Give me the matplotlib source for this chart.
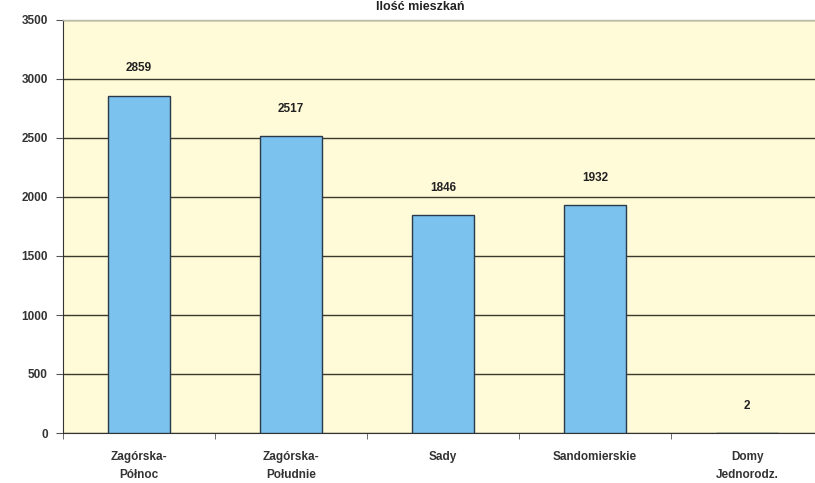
import matplotlib
matplotlib.use("Agg")
import matplotlib.pyplot as plt
import numpy as np

categories = ["Zagórska-\nPółnoc", "Zagórska-\nPołudnie", "Sady", "Sandomierskie", "Domy\nJednorodz."]
values = [2859, 2517, 1846, 1932, 2]
yticks = [0, 500, 1000, 1500, 2000, 2500, 3000, 3500]
title = "Ilość mieszkań"

plt.rcParams['font.family'] = ['Liberation Sans', 'DejaVu Sans']

W, H = 815, 483
fig = plt.figure(figsize=(W/100, H/100), dpi=100)
fig.patch.set_facecolor("white")
ax = fig.add_axes([63/W, (H-433)/H, 760/W, 413/H])
ax.set_facecolor("#FFFAD8")

x = np.arange(len(categories))
ax.bar(x, values, width=0.41, color="#7CC2EE", edgecolor="#2A3A4A", linewidth=1.0, zorder=3)
for xi, v in zip(x, values):
    ax.text(xi, v + 230, str(v), ha="center", va="center", fontsize=8.5, fontweight="bold", color="#222222", zorder=4)

ax.set_xlim(-0.5, len(categories) - 0.5)
ax.set_ylim(0, 3500)
ax.set_yticks(yticks)
ax.set_yticklabels([str(t) for t in yticks], fontsize=8.5, fontweight="bold", color="#333333")
ax.yaxis.grid(True, color="#3a3a2a", linewidth=1.0, zorder=1)
ax.set_axisbelow(True)

ax.set_xticks(x)
ax.set_xticklabels(categories, fontsize=8.5, fontweight="bold", color="#333333", linespacing=1.7)
ax.tick_params(axis="x", length=0, pad=13)
ax.set_xticks(np.arange(len(categories) + 1) - 0.5, minor=True)
ax.tick_params(axis="x", which="minor", length=4, color="#555555", direction="out")
ax.tick_params(axis="y", length=5, color="#555555", direction="out", pad=6)

for s in ["top", "right"]:
    ax.spines[s].set_color("#bbbbaa")
    ax.spines[s].set_linewidth(1.0)
ax.spines["left"].set_color("#333333")
ax.spines["bottom"].set_color("#333333")

fig.text(420/W, 1 - 1/H, title, ha="center", va="top", fontsize=9, fontweight="bold", color="#222222")

fig.savefig("out.png", dpi=100)
